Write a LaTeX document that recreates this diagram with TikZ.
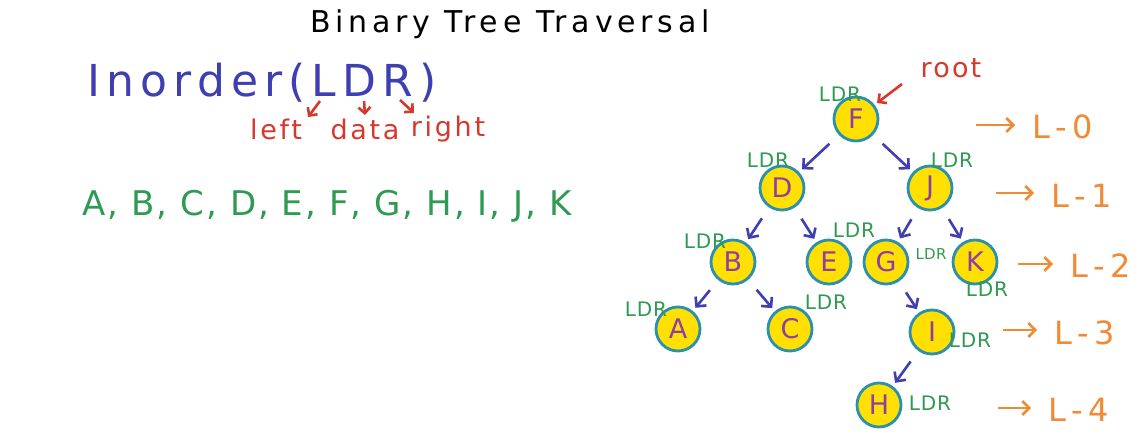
\documentclass[tikz,border=0pt]{standalone}
\usepackage{fontspec}
\setmainfont{DejaVu Sans}
\usepackage{tikz}
\usetikzlibrary{arrows.meta}

\definecolor{inkblue}{HTML}{3F3FB2}
\definecolor{inkred}{HTML}{D8382C}
\definecolor{inkgreen}{HTML}{2F9A52}
\definecolor{inkorange}{HTML}{F08A34}
\definecolor{vtxfill}{HTML}{FFE000}
\definecolor{vtxring}{HTML}{2B8FAE}
\definecolor{vtxtext}{HTML}{8E3FA6}

\newcommand{\fsz}[2]{\fontsize{#1}{#1}\selectfont\addfontfeature{LetterSpace=#2}}

\begin{document}
\begin{tikzpicture}[
  x=1pt, y=-1pt,
  vtx/.style={circle,draw=vtxring,line width=2.8pt,fill=vtxfill,minimum size=44pt,
              inner sep=0pt,text=vtxtext,font=\fsz{27}{0}},
  edge/.style={line width=2.6pt,draw=inkblue,shorten <=13pt,shorten >=4pt,
               -{Straight Barb[length=7pt,width=14pt]}},
  ldr/.style={text=inkgreen,font=\fsz{20}{4}},
  redarrow/.style={line width=2.6pt,draw=inkred,
                   -{Straight Barb[length=6pt,width=12pt]}},
  lvl/.style={text=inkorange,font=\fsz{32}{18}},
  lvlarrow/.style={line width=2.6pt,draw=inkorange,shorten >=14pt,
                   -{Straight Barb[length=7pt,width=14pt]}},
]
  \useasboundingbox[fill=white] (0,0) rectangle (1144,434);

  % Heading
  \node[font=\fsz{30}{16}] (title) at (510,24) {Binary Tree Traversal};
  \node[text=inkblue,font=\fsz{44}{14}] (inorder) at (262,83) {Inorder(LDR)};

  % Meaning of L, D, R
  \node[text=inkred,font=\fsz{27}{10}] (left)  at (276,129) {left};
  \node[text=inkred,font=\fsz{27}{10}] (data)  at (365,129) {data};
  \node[text=inkred,font=\fsz{27}{10}] (right) at (448,129) {right};
  \coordinate (cL) at (320,101);
  \coordinate (cD) at (364,101);
  \coordinate (cR) at (400,100);
  \draw[redarrow] (cL) -- (308,117);
  \draw[redarrow] (cD) -- (data.north);
  \draw[redarrow] (cR) -- (414,113);

  % Inorder result
  \node[text=inkgreen,font=\fsz{34}{6}] (result) at (327,206)
    {A, B, C, D, E, F, G, H, I, J, K};

  % Tree vertices
  \node[vtx] (nF) at (856,119) {F};
  \node[vtx] (nD) at (782,188) {D};
  \node[vtx] (nJ) at (930,188) {J};
  \node[vtx] (nB) at (733,262) {B};
  \node[vtx] (nE) at (829,262) {E};
  \node[vtx] (nG) at (886,262) {G};
  \node[vtx] (nK) at (975,262) {K};
  \node[vtx] (nA) at (678,329) {A};
  \node[vtx] (nC) at (790,329) {C};
  \node[vtx] (nI) at (932,332) {I};
  \node[vtx] (nH) at (879,405) {H};

  % Tree edges
  \draw[edge] (nF) -- (nD);
  \draw[edge] (nF) -- (nJ);
  \draw[edge] (nD) -- (nB);
  \draw[edge] (nD) -- (nE);
  \draw[edge] (nJ) -- (nG);
  \draw[edge] (nJ) -- (nK);
  \draw[edge] (nB) -- (nA);
  \draw[edge] (nB) -- (nC);
  \draw[edge] (nG) -- (nI);
  \draw[edge] (nI) -- (nH);

  % LDR marks
  \node[ldr] (lF) at (840,94)  {LDR};
  \node[ldr] (lD) at (768,160) {LDR};
  \node[ldr] (lJ) at (952,160) {LDR};
  \node[ldr] (lB) at (705,241) {LDR};
  \node[ldr] (lE) at (854,230) {LDR};
  \node[ldr,font=\fsz{15}{2}] (lG) at (931,254) {LDR};
  \node[ldr] (lK) at (987,289) {LDR};
  \node[ldr] (lA) at (646,309) {LDR};
  \node[ldr] (lC) at (826,302) {LDR};
  \node[ldr] (lI) at (970,340) {LDR};
  \node[ldr] (lH) at (930,403) {LDR};

  % Root pointer
  \node[text=inkred,font=\fsz{27}{8}] (root) at (951,68) {root};
  \coordinate (rootarr) at (902,84);
  \draw[redarrow,shorten >=3pt] (rootarr) -- (nF);

  % Levels
  \node[lvl] (L0) at (1063,127) {L-0};
  \node[lvl] (L1) at (1082,196) {L-1};
  \node[lvl] (L2) at (1101,266) {L-2};
  \node[lvl] (L3) at (1085,333) {L-3};
  \node[lvl] (L4) at (1079,410) {L-4};
  \coordinate (a0) at (976,125);
  \coordinate (a1) at (996,193);
  \coordinate (a2) at (1018,264);
  \coordinate (a3) at (1003,330);
  \coordinate (a4) at (998,408);
  \draw[lvlarrow] (a0) -- (a0 -| L0.west);
  \draw[lvlarrow] (a1) -- (a1 -| L1.west);
  \draw[lvlarrow] (a2) -- (a2 -| L2.west);
  \draw[lvlarrow] (a3) -- (a3 -| L3.west);
  \draw[lvlarrow] (a4) -- (a4 -| L4.west);
\end{tikzpicture}
\end{document}
